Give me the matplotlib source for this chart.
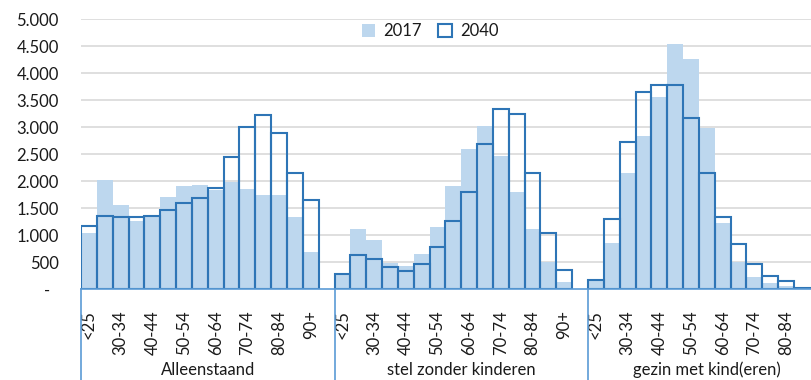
import matplotlib
matplotlib.use("Agg")
import matplotlib.pyplot as plt
from matplotlib.patches import Patch
import numpy as np

# =========================
# 数据
# =========================
AGE_CLASSES = ["<25", "25-29", "30-34", "35-39", "40-44", "45-49", "50-54", "55-59",
               "60-64", "65-69", "70-74", "75-79", "80-84", "85-89", "90+"]
GROUPS = ["Alleenstaand", "stel zonder kinderen", "gezin met kind(eren)"]

alleen_2017 = [1050, 2030, 1570, 1260, 1340, 1710, 1920, 1940, 1840, 1990, 1860, 1740, 1740, 1340, 690]
alleen_2040 = [1180, 1350, 1330, 1340, 1350, 1470, 1590, 1700, 1870, 2450, 3000, 3220, 2900, 2160, 1650]
stel_2017 = [270, 1110, 920, 490, 440, 650, 1160, 1910, 2600, 3030, 2460, 1800, 1110, 510, 140]
stel_2040 = [290, 640, 560, 420, 330, 470, 790, 1270, 1810, 2700, 3340, 3250, 2160, 1050, 350]
gezin_2017 = [150, 860, 2150, 2830, 3570, 4550, 4270, 2990, 1230, 510, 230, 110, 70, 15, 5]
gezin_2040 = [180, 1300, 2730, 3650, 3790, 3790, 3170, 2160, 1330, 840, 470, 240, 150, 30, 10]

Y_TICKS = [0, 500, 1000, 1500, 2000, 2500, 3000, 3500, 4000, 4500, 5000]
Y_LABELS = ["-  ", "500", "1.000", "1.500", "2.000", "2.500", "3.000",
            "3.500", "4.000", "4.500", "5.000"]

COLOR_2017 = "#BDD7EE"
COLOR_2040 = "#2E75B6"
COLOR_AXIS = "#5B9BD5"
COLOR_TEXT = "#1A1A1A"

plt.rcParams["font.family"] = ["Lato", "DejaVu Sans"]

W, H = 811, 380
fig = plt.figure(figsize=(W / 100, H / 100), dpi=100)
left, right, top, base = 81, 811, 19.3, 289.3
ax = fig.add_axes([left / W, (H - base) / H, (right - left) / W, (base - top) / H])

slot = 16  # 15 leeftijdsklassen + 1 lege plek per groep
series_2017 = [alleen_2017, stel_2017, gezin_2017]
series_2040 = [alleen_2040, stel_2040, gezin_2040]

for g in range(3):
    x = g * slot + np.arange(len(AGE_CLASSES)) + 0.5
    ax.bar(x, series_2017[g], width=1.0, color=COLOR_2017, linewidth=0, zorder=2)
    ax.bar(x, series_2040[g], width=1.0, facecolor="none", edgecolor=COLOR_2040,
           linewidth=1.5, zorder=3)

xmax = (right - left) / ((588 - 81) / 32)
ax.set_ylim(0, 5000)
ax.set_xlim(0, xmax)

ax.set_yticks(Y_TICKS)
ax.set_yticklabels(Y_LABELS, fontsize=12, color=COLOR_TEXT)
ax.tick_params(axis="y", length=0, pad=16)
for yv in Y_TICKS[1:]:
    ax.axhline(yv, color="#D9D9D9", lw=1.2, zorder=1)

# alleen labels die binnen het zichtbare deel vallen (grafiek is rechts afgesneden)
xt, xl = [], []
for g in range(3):
    for i in range(0, len(AGE_CLASSES), 2):
        pos = g * slot + i + 0.5
        if pos < xmax - 0.5:
            xt.append(pos)
            xl.append(AGE_CLASSES[i])
ax.set_xticks(xt)
ax.set_xticklabels(xl, rotation=90, fontsize=12, color=COLOR_TEXT, va="top")
ax.tick_params(axis="x", length=0, pad=15)

for s in ["top", "right", "left"]:
    ax.spines[s].set_visible(False)
ax.spines["bottom"].set_color(COLOR_AXIS)
ax.spines["bottom"].set_linewidth(1.2)
ax.spines["bottom"].set_zorder(4)

# groepsscheiding onder de as
drop = (H - base) / (base - top)
for g in range(3):
    ax.plot([g * slot, g * slot], [0, -drop], color=COLOR_AXIS, lw=1.2,
            transform=ax.get_xaxis_transform(), clip_on=False)

group_x = [208, 461, 707]
for name, gx in zip(GROUPS, group_x):
    fig.text(gx / W, 1 - 370 / H, name, ha="center", va="center",
             fontsize=12, color=COLOR_TEXT)

handles = [Patch(facecolor=COLOR_2017, edgecolor="none"),
           Patch(facecolor="white", edgecolor=COLOR_2040, linewidth=1.5)]
fig.legend(handles, ["2017", "2040"], loc="center", bbox_to_anchor=(430 / W, 1 - 31 / H),
           ncol=2, frameon=False, fontsize=12, handlelength=0.8, handleheight=0.8,
           handletextpad=0.5, columnspacing=1.0, labelcolor=COLOR_TEXT)

fig.savefig("out.png", dpi=100)
plt.close(fig)
